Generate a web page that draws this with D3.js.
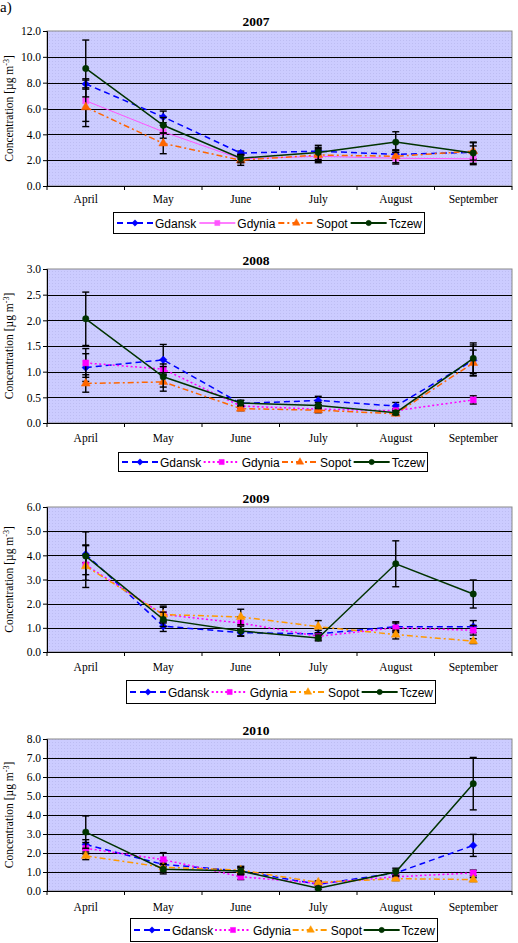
<!DOCTYPE html>
<html><head><meta charset="utf-8">
<script src="https://cdn.jsdelivr.net/npm/d3@7"></script>
<style>html,body{margin:0;padding:0;background:#fff;}svg{display:block;}</style>
</head><body>
<script>
const months = ["April","May","June","July","August","September"];
const sites = ["Gdansk","Gdynia","Sopot","Tczew"];
const years = ["2007","2008","2009","2010"];
const yMaxes = [12, 3, 6, 8];
const yStepsArr = [2, 0.5, 1, 1];

// means [Gdansk, Gdynia, Sopot, Tczew]
const mean2007 = [
  [7.9, 5.35, 2.55, 2.7, 2.45, 2.6],
  [6.6, 4.2, 2.1, 2.3, 2.15, 2.1],
  [6.1, 3.3, 2.0, 2.4, 2.3, 2.7],
  [9.1, 4.7, 2.15, 2.6, 3.4, 2.55]
];
const err2007 = [
  [0.4, 0.45, 0.15, 0.3, 0.3, 0.5],
  [1.6, 0.5, 0.3, 0.5, 0.45, 0.45],
  [1.5, 0.8, 0.4, 0.5, 0.5, 0.7],
  [2.2, 0.6, 0.3, 0.55, 0.8, 0.8]
];
const mean2008 = [
  [1.08, 1.23, 0.38, 0.44, 0.33, 1.22],
  [1.17, 1.05, 0.33, 0.27, 0.24, 0.45],
  [0.77, 0.80, 0.28, 0.25, 0.18, 1.17],
  [2.03, 0.90, 0.39, 0.34, 0.20, 1.26]
];
const err2008 = [
  [0.27, 0.30, 0.06, 0.08, 0.07, 0.30],
  [0.28, 0.10, 0.05, 0.04, 0.04, 0.08],
  [0.17, 0.18, 0.04, 0.05, 0.03, 0.25],
  [0.52, 0.20, 0.05, 0.06, 0.04, 0.30]
];
const mean2009 = [
  [4.05, 1.07, 0.80, 0.75, 1.05, 1.05],
  [3.60, 1.55, 1.20, 0.65, 1.00, 0.90],
  [3.55, 1.55, 1.45, 1.05, 0.72, 0.45],
  [3.97, 1.35, 0.87, 0.58, 3.65, 2.40]
];
const err2009 = [
  [0.35, 0.22, 0.15, 0.15, 0.20, 0.25],
  [0.40, 0.30, 0.25, 0.15, 0.20, 0.20],
  [0.88, 0.35, 0.32, 0.25, 0.18, 0.10],
  [1.00, 0.30, 0.20, 0.12, 0.95, 0.58]
];
const mean2010 = [
  [2.45, 1.40, 1.05, 0.35, 0.95, 2.40],
  [2.25, 1.65, 0.75, 0.40, 0.75, 0.95],
  [1.85, 1.25, 1.10, 0.45, 0.65, 0.60],
  [3.10, 1.15, 1.05, 0.15, 1.00, 5.65]
];
const err2010 = [
  [0.25, 0.20, 0.15, 0.08, 0.15, 0.58],
  [0.30, 0.37, 0.15, 0.08, 0.12, 0.15],
  [0.20, 0.20, 0.20, 0.08, 0.10, 0.10],
  [0.85, 0.25, 0.20, 0.08, 0.20, 1.38]
];
const meansAll = [mean2007, mean2008, mean2009, mean2010];
const errsAll = [err2007, err2008, err2009, err2010];

// ---- styles / layout (not data) ----
const W = 518, H = 943;
const plotLeft = 47, plotRight = 512;
const layout = [
  {top:31,  bottom:186, titleY:26,  xLabY:203, leg:{x:113,y:212,w:311,h:21}},
  {top:269, bottom:423, titleY:265, xLabY:442, leg:{x:118,y:452,w:309,h:19}},
  {top:507, bottom:652, titleY:503, xLabY:671, leg:{x:126,y:680,w:309,h:23}},
  {top:739, bottom:891, titleY:735, xLabY:911, leg:{x:130,y:918,w:307,h:23}}
];
function styleFor(site, yi){
  if(site==="Gdansk") return {color:"#0000ff", dash:"6,4", w:1.5, marker:"diamond"};
  if(site==="Gdynia") return yi===0 ? {color:"#ff55ff", dash:null, w:1, marker:"square"}
                                    : {color:"#ff00ff", dash:"2,2.5", w:1.5, marker:"square"};
  if(site==="Sopot") return {color: yi<2 ? "#ff6600" : "#ff9900", dash:"6,3,2,3", w:1.5, marker:"triangle"};
  return {color:"#003300", dash:null, w:1.5, marker:"circle"};
}
const symbolType = {diamond:d3.symbolSquare, square:d3.symbolSquare, triangle:d3.symbolTriangle, circle:d3.symbolCircle};
const symbolRot = {diamond:45, square:0, triangle:0, circle:0};
const symbolSize = {diamond:28, square:36, triangle:34, circle:32};
const legSymbolSize = {diamond:20, square:26, triangle:24, circle:22};

const svg = d3.select("body").append("svg").attr("width",W).attr("height",H)
  .attr("font-family","'Liberation Serif','Times New Roman',serif");

const defs = svg.append("defs");
const pat = defs.append("pattern").attr("id","dots").attr("width",3).attr("height",3).attr("patternUnits","userSpaceOnUse");
pat.append("rect").attr("width",3).attr("height",3).attr("fill","#ccccff");
pat.append("rect").attr("x",1).attr("y",1).attr("width",1).attr("height",1).attr("fill","#bdbdf2");

svg.append("text").attr("x",0).attr("y",12).attr("font-size",15).text("a)");

const x = d3.scalePoint().domain(months).range([plotLeft, plotRight]).padding(0.5);
const xBand = d3.scaleBand().domain(months).range([plotLeft, plotRight]);

years.forEach((yr, yi) => {
  const L = layout[yi];
  const y = d3.scaleLinear().domain([0, yMaxes[yi]]).range([L.bottom, L.top]);
  const ticks = d3.range(0, yMaxes[yi] + 1e-9, yStepsArr[yi]);
  const g = svg.append("g");

  g.append("rect").attr("x",plotLeft).attr("y",L.top).attr("width",plotRight-plotLeft)
    .attr("height",L.bottom-L.top).attr("fill","url(#dots)").attr("stroke","#8a8a8a").attr("stroke-width",1);

  // gridlines
  g.selectAll(".grid").data(ticks.filter(t => t > 0 && t < yMaxes[yi] - 1e-9)).join("line")
    .attr("x1",plotLeft).attr("x2",plotRight)
    .attr("y1",d=>Math.round(y(d))+0.5).attr("y2",d=>Math.round(y(d))+0.5)
    .attr("stroke","#000").attr("stroke-width",1);

  // y axis
  const ya = g.append("g").attr("transform",`translate(${plotLeft},0)`)
    .call(d3.axisLeft(y).tickValues(ticks).tickFormat(d3.format(".1f")).tickSize(4).tickPadding(2));
  ya.select(".domain").attr("stroke","#000");
  ya.selectAll("text").attr("font-size",11.5).attr("font-family","'Liberation Serif',serif").attr("fill","#000");

  // x axis
  const xa = g.append("g").attr("transform",`translate(0,${L.bottom})`)
    .call(d3.axisBottom(xBand).tickSize(0).tickFormat(""));
  xa.select(".domain").attr("stroke","#000").attr("d",`M${plotLeft},0.5H${plotRight}`);
  const edges = months.map(m => xBand(m)).concat([plotRight]);
  g.selectAll(".xt").data(edges).join("line")
    .attr("x1",d=>d).attr("x2",d=>d).attr("y1",L.bottom).attr("y2",L.bottom+4)
    .attr("stroke","#000");
  g.selectAll(".xl").data(months).join("text")
    .attr("x",d=>x(d)).attr("y",L.xLabY).attr("text-anchor","middle").attr("font-size",11.5).text(d=>d);

  // title
  g.append("text").attr("x",256).attr("y",L.titleY).attr("text-anchor","middle")
    .attr("font-size",13.5).attr("font-weight","bold").text(yr);

  // y label
  const mid = (L.top + L.bottom)/2;
  const yl = g.append("text").attr("transform",`translate(13,${mid}) rotate(-90)`)
    .attr("text-anchor","middle").attr("font-size",11.5);
  yl.append("tspan").text("Concentration [µg m");
  yl.append("tspan").attr("font-size",8).attr("dy",-4).text("-3");
  yl.append("tspan").attr("dy",4).text("]");

  // series
  sites.forEach((site, si) => {
    const st = styleFor(site, yi);
    const vals = meansAll[yi][si];
    const errs = errsAll[yi][si];
    const pts = months.map((m, i) => ({m, v: vals[i], e: errs[i]}));
    const sg = g.append("g");
    sg.selectAll(".eb").data(pts).join("line")
      .attr("x1",d=>x(d.m)).attr("x2",d=>x(d.m))
      .attr("y1",d=>y(d.v - d.e)).attr("y2",d=>y(d.v + d.e))
      .attr("stroke","#000").attr("stroke-width",1.4);
    ["lo","hi"].forEach(k => {
      sg.selectAll(".cap"+k).data(pts).join("line")
        .attr("x1",d=>x(d.m)-3.5).attr("x2",d=>x(d.m)+3.5)
        .attr("y1",d=>y(k==="lo"? d.v-d.e : d.v+d.e)).attr("y2",d=>y(k==="lo"? d.v-d.e : d.v+d.e))
        .attr("stroke","#000").attr("stroke-width",1.4);
    });
    const line = d3.line().x(d=>x(d.m)).y(d=>y(d.v));
    sg.append("path").datum(pts).attr("d",line).attr("fill","none")
      .attr("stroke",st.color).attr("stroke-width",st.w)
      .attr("stroke-dasharray",st.dash);
    sg.selectAll(".mk").data(pts).join("path")
      .attr("transform",d=>`translate(${x(d.m)},${y(d.v)}) rotate(${symbolRot[st.marker]})`)
      .attr("d",d3.symbol().type(symbolType[st.marker]).size(symbolSize[st.marker]))
      .attr("fill",st.color).attr("stroke",st.color).attr("stroke-width",0.5);
  });

  // legend
  const lg = g.append("g");
  lg.append("rect").attr("x",L.leg.x+0.5).attr("y",L.leg.y+0.5).attr("width",L.leg.w).attr("height",L.leg.h)
    .attr("fill","#fff").attr("stroke","#000").attr("stroke-width",1);
  const cy = L.leg.y + L.leg.h/2 + 0.5;
  const widths = sites.map(s => {
    const t = lg.append("text").attr("font-size",12).attr("font-family","'Liberation Sans',Arial,sans-serif").text(s);
    const w = t.node().getComputedTextLength(); t.remove(); return w;
  });
  const lineLen = 36, gap1 = 2;
  const total = d3.sum(widths) + sites.length*(lineLen+gap1);
  const spacing = (L.leg.w - 6 - total)/(sites.length-1);
  let cx = L.leg.x + 4;
  sites.forEach((s, si) => {
    const st = styleFor(s, yi);
    lg.append("line").attr("x1",cx).attr("x2",cx+lineLen).attr("y1",cy).attr("y2",cy)
      .attr("stroke",st.color).attr("stroke-width",st.w+0.3).attr("stroke-dasharray",st.dash);
    lg.append("path").attr("transform",`translate(${cx+lineLen/2},${cy}) rotate(${symbolRot[st.marker]})`)
      .attr("d",d3.symbol().type(symbolType[st.marker]).size(legSymbolSize[st.marker]))
      .attr("fill",st.color).attr("stroke",st.color).attr("stroke-width",0.5);
    lg.append("text").attr("x",cx+lineLen+gap1).attr("y",cy+4.5).attr("font-size",12)
      .attr("font-family","'Liberation Sans',Arial,sans-serif").text(s);
    cx += lineLen + gap1 + widths[si] + spacing;
  });
});
</script>
</body></html>
